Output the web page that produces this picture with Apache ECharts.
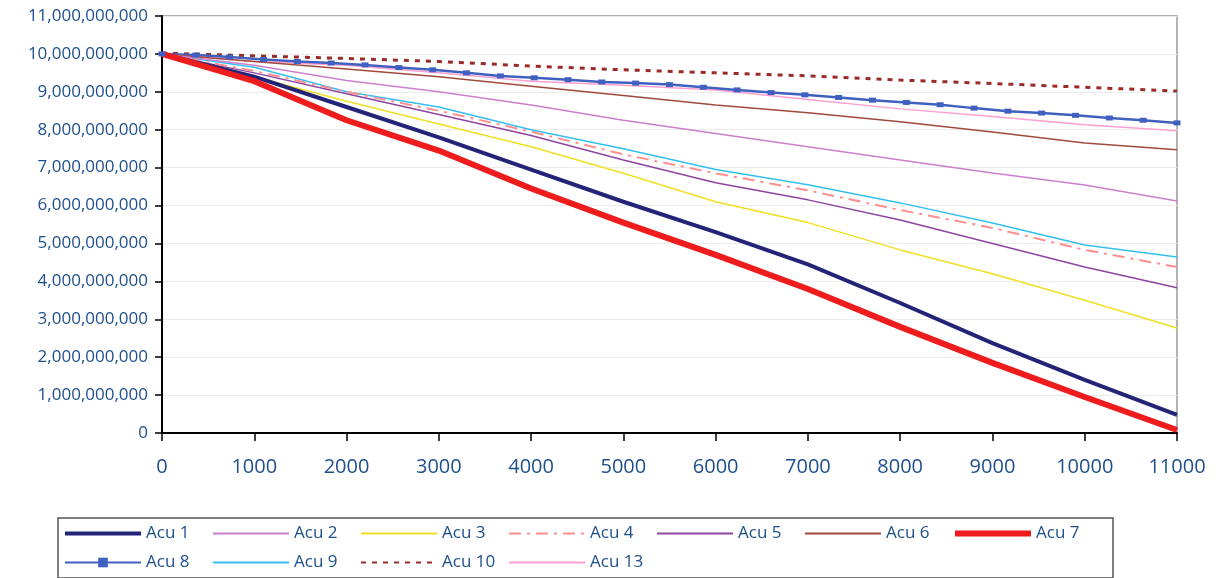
<!doctype html>
<html lang="en">
<head>
    <meta charset="UTF-8">
    <title>Acu</title>
    <style>
        html, body { margin: 0; padding: 0; background: #fff; }
        #main { width: 1222px; height: 578px; }
    </style>
    <script src="https://cdn.jsdelivr.net/npm/echarts@6/dist/echarts.min.js"></script>
</head>
<body>
<div id="main"></div>
<script type="text/javascript">
    // x positions (steps) and values in billions
    var steps = [0, 1000, 2000, 3000, 4000, 5000, 6000, 7000, 8000, 9000, 10000, 11000];
    var acu1 = [10, 9.4, 8.6, 7.8, 6.95, 6.1, 5.3, 4.45, 3.43, 2.37, 1.4, 0.48];
    var acu2 = [10, 9.7, 9.3, 9.0, 8.65, 8.25, 7.9, 7.55, 7.2, 6.86, 6.54, 6.12];
    var acu3 = [10, 9.4, 8.75, 8.15, 7.55, 6.85, 6.1, 5.55, 4.83, 4.2, 3.5, 2.77];
    var acu4 = [10, 9.55, 9.0, 8.5, 7.95, 7.35, 6.85, 6.4, 5.88, 5.41, 4.83, 4.38];
    var acu5 = [10, 9.5, 8.95, 8.4, 7.85, 7.2, 6.6, 6.15, 5.62, 5.0, 4.38, 3.83];
    var acu6 = [10, 9.8, 9.6, 9.4, 9.15, 8.9, 8.65, 8.45, 8.21, 7.94, 7.65, 7.47];
    var acu7 = [10, 9.28, 8.25, 7.45, 6.45, 5.55, 4.7, 3.8, 2.8, 1.85, 0.95, 0.08];
    var acu9 = [10, 9.65, 9.0, 8.6, 8.0, 7.5, 6.95, 6.55, 6.07, 5.54, 4.96, 4.64];
    var acu10 = [10.02, 9.95, 9.88, 9.8, 9.68, 9.58, 9.5, 9.42, 9.31, 9.22, 9.12, 9.02];
    var acu13 = [10, 9.8, 9.7, 9.5, 9.28, 9.17, 9.05, 8.8, 8.55, 8.35, 8.13, 7.97];
    // Acu 8 has its own (marker) steps
    var steps8 = [0, 367, 733, 1100, 1467, 1833, 2200, 2567, 2933, 3300, 3667, 4033, 4400, 4767, 5133, 5500,
        5867, 6233, 6600, 6967, 7333, 7700, 8067, 8433, 8800, 9167, 9533, 9900, 10267, 10633, 11000];
    var acu8 = [10, 9.97, 9.92, 9.85, 9.8, 9.76, 9.71, 9.64, 9.58, 9.5, 9.42, 9.37, 9.32, 9.26, 9.23, 9.19,
        9.12, 9.05, 8.98, 8.92, 8.85, 8.78, 8.72, 8.66, 8.57, 8.49, 8.44, 8.38, 8.31, 8.25, 8.18];

    var labelColor = '#1e4f8c';
    var font = '"Open Sans", "DejaVu Sans", sans-serif';

    function pairs(xs, ys) {
        var out = [];
        for (var i = 0; i < ys.length; i++) {
            out.push([xs[i], ys[i] * 1e9]);
        }
        return out;
    }

    function line(name, xs, ys, color, width, dash) {
        return {
            name: name,
            type: 'line',
            data: pairs(xs, ys),
            symbol: 'none',
            animation: false,
            lineStyle: {color: color, width: width, type: dash || 'solid'},
            itemStyle: {color: color}
        };
    }

    var acu8Series = line('Acu 8', steps8, acu8, '#4060c0', 2.5);
    acu8Series.symbol = 'rect';
    acu8Series.symbolSize = [7, 5];
    acu8Series.showSymbol = true;

    var series = [
        line('Acu 13', steps, acu13, '#ff9fcf', 1.5),
        line('Acu 10', steps, acu10, '#9b2a2a', 3, [5, 6]),
        line('Acu 9', steps, acu9, '#33c0f0', 1.5),
        acu8Series,
        line('Acu 6', steps, acu6, '#a04a3c', 1.5),
        line('Acu 5', steps, acu5, '#8e44a0', 1.5),
        line('Acu 4', steps, acu4, '#ff8f8f', 2, [12, 6, 3, 6]),
        line('Acu 3', steps, acu3, '#f0e020', 1.5),
        line('Acu 2', steps, acu2, '#cc7fcc', 1.5),
        line('Acu 1', steps, acu1, '#232378', 4),
        line('Acu 7', steps, acu7, '#ee1c1c', 6)
    ];

    var names = ['Acu 1', 'Acu 2', 'Acu 3', 'Acu 4', 'Acu 5', 'Acu 6', 'Acu 7',
        'Acu 8', 'Acu 9', 'Acu 10', 'Acu 13'];
    var legendData = names.map(function (n) {
        // only Acu 8 shows its marker in the legend
        var item = {name: n, itemStyle: {opacity: n === 'Acu 8' ? 1 : 0}};
        if (n === 'Acu 1') item.lineStyle = {width: 4};
        if (n === 'Acu 7') item.lineStyle = {width: 6};
        if (n === 'Acu 8') item.symbolSize = 7;
        return item;
    });

    var myChart = echarts.init(document.getElementById('main'));
    myChart.setOption({
        animation: false,
        grid: {
            left: 162, right: 45, top: 16, bottom: 145,
            show: true, borderColor: '#999', borderWidth: 1.5
        },
        legend: {
            data: legendData,
            left: 58,
            top: 518,
            width: 1045,
            padding: [6, 21, 6, 5],
            itemWidth: 76,
            itemHeight: 12,
            itemGap: 10,
            borderColor: '#555',
            borderWidth: 1.5,
            textStyle: {color: labelColor, fontSize: 17, fontFamily: font, width: 56, lineHeight: 19}
        },
        xAxis: {
            type: 'value',
            min: 0,
            max: 11000,
            interval: 1000,
            axisLine: {onZero: false, lineStyle: {color: '#000', width: 2}},
            axisTick: {show: true, length: 8, lineStyle: {color: '#000', width: 1.5}},
            axisLabel: {
                color: labelColor, fontSize: 20, fontFamily: font, margin: 24,
                formatter: function (v) { return String(v); }
            },
            splitLine: {show: false}
        },
        yAxis: {
            type: 'value',
            min: 0,
            max: 11e9,
            interval: 1e9,
            axisLine: {show: true, lineStyle: {color: '#000', width: 2}},
            axisTick: {show: true, length: 7, lineStyle: {color: '#000', width: 1.5}},
            axisLabel: {
                color: labelColor, fontSize: 17, fontFamily: font, margin: 14,
                formatter: function (v) { return v.toLocaleString('en-US'); }
            },
            splitLine: {show: true, lineStyle: {color: '#ececec', width: 1}}
        },
        series: series
    });
</script>
</body>
</html>
